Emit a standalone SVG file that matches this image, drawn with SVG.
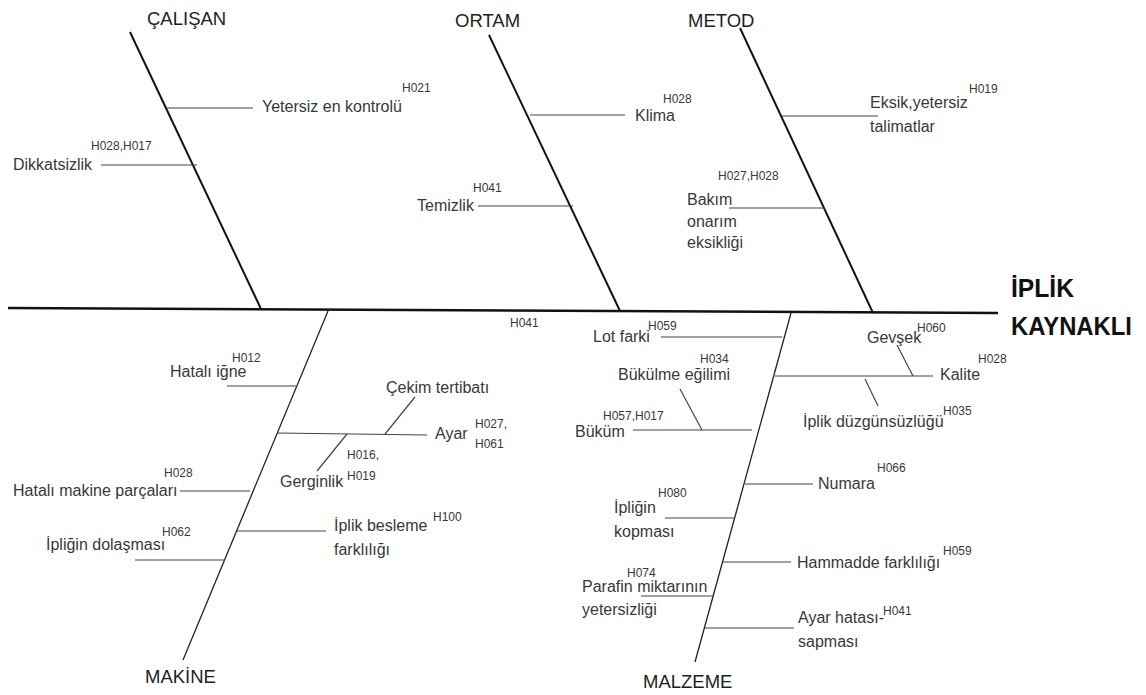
<svg xmlns="http://www.w3.org/2000/svg" width="1146" height="695" viewBox="0 0 1146 695">
  <style>
    text { font-family: "Liberation Sans", Arial, sans-serif; fill: #383838; }
    .lbl { font-size: 16px; }
    .sup { font-size: 12px; }
    .cat { font-size: 18.5px; fill: #1e1e1e; }
    .head { font-size: 25.5px; font-weight: bold; fill: #111; }
    .spine { stroke: #111; stroke-width: 2.4; fill: none; }
    .bone { stroke: #111; stroke-width: 2; fill: none; }
    .bone-low { stroke: #222; stroke-width: 1.3; fill: none; }
    .rib { stroke: #444; stroke-width: 1.2; fill: none; }
  </style>

  <rect width="1146" height="695" fill="#fff"/>

  <!-- all lines: spine, main bones, ribs -->
  <g id="connectors">
    <line class="spine" x1="8" y1="308" x2="998" y2="313"/>

    <!-- upper bones -->
    <line class="bone" x1="130" y1="32" x2="261" y2="309"/>
    <line class="bone" x1="489" y1="35" x2="620" y2="311"/>
    <line class="bone" x1="740" y1="28" x2="873" y2="313"/>

    <!-- lower bones -->
    <line class="bone-low" x1="328" y1="311" x2="183" y2="660"/>
    <line class="bone-low" x1="791" y1="313" x2="695" y2="662"/>

    <!-- ÇALIŞAN ribs -->
    <line class="rib" x1="167" y1="108" x2="253" y2="108"/>
    <line class="rib" x1="101" y1="165" x2="197" y2="165"/>

    <!-- ORTAM ribs -->
    <line class="rib" x1="530" y1="115" x2="625" y2="115"/>
    <line class="rib" x1="478" y1="206" x2="573" y2="206"/>

    <!-- METOD ribs -->
    <line class="rib" x1="782" y1="116" x2="878" y2="116"/>
    <line class="rib" x1="729" y1="208" x2="825" y2="208"/>

    <!-- MAKİNE ribs -->
    <line class="rib" x1="227" y1="386" x2="296" y2="386"/>
    <line class="rib" x1="277" y1="433" x2="427" y2="435"/>
    <line class="rib" x1="385" y1="434" x2="415" y2="397"/>
    <line class="rib" x1="347" y1="434" x2="317" y2="471"/>
    <line class="rib" x1="180" y1="491" x2="250" y2="491"/>
    <line class="rib" x1="237" y1="531" x2="326" y2="531"/>
    <line class="rib" x1="135" y1="560" x2="225" y2="560"/>

    <!-- MALZEME ribs -->
    <line class="rib" x1="661" y1="337" x2="782" y2="337"/>
    <line class="rib" x1="775" y1="376" x2="933" y2="376"/>
    <line class="rib" x1="897" y1="345" x2="913" y2="376"/>
    <line class="rib" x1="865" y1="379" x2="878" y2="406"/>
    <line class="rib" x1="633" y1="430" x2="752" y2="430"/>
    <line class="rib" x1="680" y1="389" x2="702" y2="430"/>
    <line class="rib" x1="745" y1="484" x2="813" y2="484"/>
    <line class="rib" x1="665" y1="518" x2="734" y2="518"/>
    <line class="rib" x1="723" y1="562" x2="791" y2="562"/>
    <line class="rib" x1="641" y1="596" x2="713" y2="596"/>
    <line class="rib" x1="705" y1="628" x2="794" y2="628"/>
  </g>

  <!-- effect -->
  <g id="effect">
    <text class="head" x="1011" y="297" textLength="63" lengthAdjust="spacingAndGlyphs">İPLİK</text>
    <text class="head" x="1011" y="335" textLength="121" lengthAdjust="spacingAndGlyphs">KAYNAKLI</text>
  </g>

  <!-- ÇALIŞAN -->
  <g id="calisan">
    <text class="cat" x="147" y="25">ÇALIŞAN</text>
    <g id="yetersiz-en-kontrolu">
      <text class="lbl" x="262" y="112">Yetersiz en kontrolü</text>
      <text class="sup" x="402" y="92">H021</text>
    </g>
    <g id="dikkatsizlik">
      <text class="lbl" x="13" y="170">Dikkatsizlik</text>
      <text class="sup" x="91" y="150">H028,H017</text>
    </g>
  </g>

  <!-- ORTAM -->
  <g id="ortam">
    <text class="cat" x="455" y="27">ORTAM</text>
    <g id="klima">
      <text class="lbl" x="635" y="121">Klima</text>
      <text class="sup" x="663" y="103">H028</text>
    </g>
    <g id="temizlik">
      <text class="lbl" x="417" y="211">Temizlik</text>
      <text class="sup" x="473" y="192">H041</text>
    </g>
  </g>

  <!-- METOD -->
  <g id="metod">
    <text class="cat" x="688" y="27">METOD</text>
    <g id="eksik-talimatlar">
      <text class="lbl" x="870" y="108">Eksik,yetersiz</text>
      <text class="lbl" x="870" y="132">talimatlar</text>
      <text class="sup" x="969" y="93">H019</text>
    </g>
    <g id="bakim-onarim">
      <text class="sup" x="718" y="180">H027,H028</text>
      <text class="lbl" x="687" y="205">Bakım</text>
      <text class="lbl" x="687" y="227">onarım</text>
      <text class="lbl" x="687" y="248">eksikliği</text>
    </g>
  </g>

  <!-- MAKİNE -->
  <g id="makine">
    <text class="cat" x="145" y="683">MAKİNE</text>
    <g id="hatali-igne">
      <text class="lbl" x="170" y="377">Hatalı iğne</text>
      <text class="sup" x="232" y="362">H012</text>
    </g>
    <g id="ayar">
      <text class="lbl" x="435" y="439">Ayar</text>
      <text class="sup" x="475" y="428">H027,</text>
      <text class="sup" x="475" y="448">H061</text>
    </g>
    <g id="cekim-tertibati">
      <text class="lbl" x="386" y="393">Çekim tertibatı</text>
    </g>
    <g id="gerginlik">
      <text class="lbl" x="280" y="487">Gerginlik</text>
      <text class="sup" x="347" y="459">H016,</text>
      <text class="sup" x="347" y="480">H019</text>
    </g>
    <g id="hatali-makine-parcalari">
      <text class="lbl" x="13" y="496">Hatalı makine parçaları</text>
      <text class="sup" x="164" y="477">H028</text>
    </g>
    <g id="iplik-besleme">
      <text class="lbl" x="334" y="531">İplik besleme</text>
      <text class="lbl" x="334" y="555">farklılığı</text>
      <text class="sup" x="433" y="521">H100</text>
    </g>
    <g id="ipligin-dolasmasi">
      <text class="lbl" x="46" y="550">İpliğin dolaşması</text>
      <text class="sup" x="162" y="536">H062</text>
    </g>
  </g>

  <!-- stray code between the lower bones -->
  <text class="sup" x="510" y="327">H041</text>

  <!-- MALZEME -->
  <g id="malzeme">
    <text class="cat" x="643" y="688">MALZEME</text>
    <g id="lot-farki">
      <text class="lbl" x="593" y="342">Lot farki</text>
      <text class="sup" x="648" y="330">H059</text>
    </g>
    <g id="bukulme-egilimi">
      <text class="lbl" x="618" y="380">Bükülme eğilimi</text>
      <text class="sup" x="700" y="363">H034</text>
    </g>
    <g id="bukum">
      <text class="lbl" x="575" y="437">Büküm</text>
      <text class="sup" x="603" y="420">H057,H017</text>
    </g>
    <g id="ipligin-kopmasi">
      <text class="lbl" x="614" y="513">İpliğin</text>
      <text class="lbl" x="614" y="537">kopması</text>
      <text class="sup" x="658" y="497">H080</text>
    </g>
    <g id="parafin">
      <text class="sup" x="627" y="577">H074</text>
      <text class="lbl" x="582" y="592">Parafin miktarının</text>
      <text class="lbl" x="582" y="615">yetersizliği</text>
    </g>
    <g id="gevsek">
      <text class="lbl" x="867" y="343">Gevşek</text>
      <text class="sup" x="917" y="332">H060</text>
    </g>
    <g id="kalite">
      <text class="lbl" x="940" y="380">Kalite</text>
      <text class="sup" x="978" y="363">H028</text>
    </g>
    <g id="iplik-duzgunsuzlugu">
      <text class="lbl" x="803" y="427">İplik düzgünsüzlüğü</text>
      <text class="sup" x="943" y="415">H035</text>
    </g>
    <g id="numara">
      <text class="lbl" x="818" y="489">Numara</text>
      <text class="sup" x="877" y="472">H066</text>
    </g>
    <g id="hammadde">
      <text class="lbl" x="797" y="568">Hammadde farklılığı</text>
      <text class="sup" x="943" y="555">H059</text>
    </g>
    <g id="ayar-hatasi">
      <text class="lbl" x="798" y="623">Ayar hatası-</text>
      <text class="lbl" x="798" y="647">sapması</text>
      <text class="sup" x="883" y="615">H041</text>
    </g>
  </g>
</svg>
